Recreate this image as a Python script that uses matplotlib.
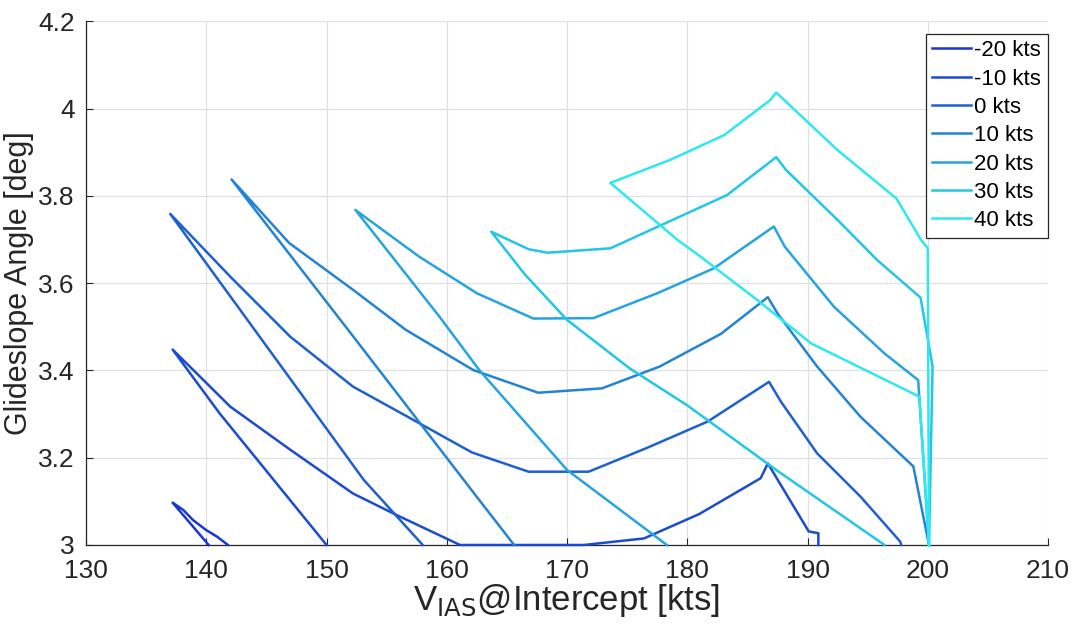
import matplotlib
matplotlib.use("Agg")
import matplotlib.pyplot as plt

plt.rcParams['font.family'] = ['Liberation Sans', 'DejaVu Sans']

labels = ['-20 kts', '-10 kts', '0 kts', '10 kts', '20 kts', '30 kts', '40 kts']
colors = ['#1a37d6', '#1b4bd0', '#1d60d0', '#2383d5', '#25a4df', '#22c6e6', '#2ee8ee']

# each series: straight branch (reversed) -> left peak -> curved branch -> right end
x_m20 = [140.2, 137.2, 138.1, 138.9, 140.0, 140.9, 141.8]
y_m20 = [3.0, 3.097, 3.080, 3.057, 3.034, 3.019, 3.0]

x_m10 = [150.0, 141.1, 137.2, 142.0, 147.0, 152.2, 155.8, 161.1, 171.4, 176.4,
         181.0, 186.1, 186.7, 190.1, 190.9, 190.9]
y_m10 = [3.0, 3.302, 3.448, 3.317, 3.218, 3.118, 3.069, 3.0, 3.0, 3.015,
         3.071, 3.153, 3.187, 3.031, 3.027, 3.0]

x_0 = [158.0, 153.1, 141.6, 137.0, 142.0, 147.0, 152.2, 157.0, 162.1, 166.8,
       171.8, 176.6, 181.7, 186.8, 187.8, 190.8, 194.4, 197.7, 197.8]
y_0 = [3.0, 3.149, 3.585, 3.759, 3.615, 3.477, 3.363, 3.290, 3.212, 3.168,
       3.168, 3.222, 3.283, 3.374, 3.328, 3.210, 3.111, 3.008, 3.0]

x_10 = [165.6, 162.7, 152.5, 142.1, 146.9, 152.2, 156.6, 162.2, 167.6, 172.9,
        177.7, 182.8, 186.7, 187.5, 190.8, 194.4, 198.8, 200.1]
y_10 = [3.0, 3.103, 3.468, 3.838, 3.692, 3.585, 3.493, 3.401, 3.349, 3.359,
        3.409, 3.484, 3.568, 3.531, 3.409, 3.294, 3.180, 3.0]

x_20 = [178.3, 170.0, 162.7, 159.4, 152.4, 157.7, 162.5, 167.2, 172.2, 177.5,
        182.2, 187.2, 188.1, 192.2, 196.4, 199.2, 200.1]
y_20 = [3.0, 3.172, 3.401, 3.523, 3.768, 3.661, 3.577, 3.519, 3.520, 3.577,
        3.634, 3.730, 3.684, 3.546, 3.439, 3.378, 3.0]

x_30 = [196.4, 187.5, 180.0, 175.2, 170.0, 166.5, 163.7, 166.8, 168.4, 173.6,
        183.3, 187.4, 188.2, 192.5, 195.8, 199.4, 200.4, 200.1]
y_30 = [3.0, 3.170, 3.320, 3.405, 3.516, 3.620, 3.718, 3.678, 3.670, 3.680,
        3.802, 3.889, 3.860, 3.745, 3.653, 3.567, 3.409, 3.0]

x_40 = [200.1, 199.3, 190.3, 185.8, 181.1, 179.2, 173.6, 178.6, 183.1, 186.9,
        187.4, 192.5, 197.4, 199.4, 200.0, 200.1]
y_40 = [3.0, 3.340, 3.462, 3.562, 3.661, 3.699, 3.830, 3.883, 3.940, 4.020,
        4.037, 3.905, 3.794, 3.701, 3.680, 3.0]

xs = [x_m20, x_m10, x_0, x_10, x_20, x_30, x_40]
ys = [y_m20, y_m10, y_0, y_10, y_20, y_30, y_40]

x_ticks = [130, 140, 150, 160, 170, 180, 190, 200, 210]
y_ticks = [3.0, 3.2, 3.4, 3.6, 3.8, 4.0, 4.2]
y_tick_labels = ['3', '3.2', '3.4', '3.6', '3.8', '4', '4.2']

fig = plt.figure(figsize=(10.78, 6.28), dpi=100)
ax = fig.add_axes([0.0798, 0.1322, 0.8924, 0.8336])

for x, y, c, lab in zip(xs, ys, colors, labels):
    ax.plot(x, y, color=c, lw=1.8, label=lab, clip_on=False, zorder=3)

ax.set_xlim(130, 210)
ax.set_ylim(3, 4.2)
ax.set_xticks(x_ticks)
ax.set_yticks(y_ticks)
ax.set_yticklabels(y_tick_labels)
ax.grid(True, color='#e0e0e0', lw=0.9)
ax.set_axisbelow(True)

for s in ['top', 'right']:
    ax.spines[s].set_visible(False)
for s in ['left', 'bottom']:
    ax.spines[s].set_color('#262626')
    ax.spines[s].set_linewidth(0.9)

ax.tick_params(direction='in', length=5, width=0.8, colors='#262626', labelsize=19)
ax.tick_params(axis='x', pad=10)
ax.tick_params(axis='y', pad=8)

ax.set_xlabel('V$_{\\mathrm{IAS}}$@Intercept [kts]', fontsize=25, color='#262626')
ax.set_ylabel('Glideslope Angle [deg]', fontsize=22, color='#262626')
ax.xaxis.set_label_coords(0.5, -0.07)
ax.yaxis.set_label_coords(-0.054, 0.5)

leg = ax.legend(loc='upper right', bbox_to_anchor=(1.0, 0.977), borderaxespad=0,
                fontsize=16, fancybox=False, framealpha=1, edgecolor='#262626',
                handlelength=1.75, handletextpad=0.15, labelspacing=0.33,
                borderpad=0.3)
leg.get_frame().set_linewidth(0.9)

fig.savefig('out.png', dpi=100)
